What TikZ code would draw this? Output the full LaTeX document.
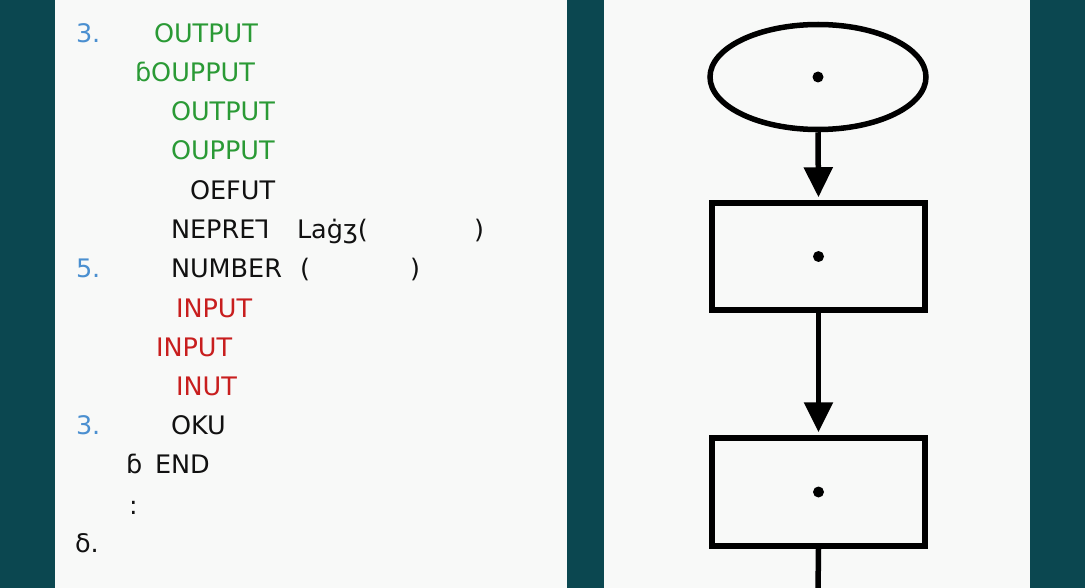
\documentclass[tikz,border=0pt]{standalone}
\usepackage{fontspec}
\setmainfont{DejaVu Sans}
\usetikzlibrary{shapes.geometric,arrows.meta}
\definecolor{bgteal}{HTML}{0B4750}
\definecolor{panel}{HTML}{F8F9F8}
\definecolor{codegreen}{HTML}{2A9A35}
\definecolor{codered}{HTML}{C81E1E}
\definecolor{codeblue}{HTML}{4A8FD0}
\definecolor{ink}{HTML}{111111}
\tikzset{
  txt/.style={anchor=base west, inner sep=0pt, outer sep=0pt, font=\fontsize{25.5}{30}\selectfont, text=ink},
  gtxt/.style={txt, text=codegreen},
  rtxt/.style={txt, text=codered},
  btxt/.style={txt, text=codeblue},
  flow/.style={draw=black, line width=5.5pt, fill=none, inner sep=0pt},
  conn/.style={line width=5.5pt, draw=black},
  arr/.style={conn, -{Triangle[length=30pt,width=28pt]}, shorten >=3pt},
  dotc/.style={circle, fill=black, minimum size=11pt, inner sep=0pt}
}
\begin{document}
\begin{tikzpicture}[x=1pt,y=-1pt]
\useasboundingbox (0,0) rectangle (1085,588);
\fill[bgteal] (0,0) rectangle (1085,588);
\fill[panel] (55,0) rectangle (567,588);
\fill[panel] (604,0) rectangle (1030,588);

% code listing
\node[btxt] (n1) at (76,43) {3.};
\node[gtxt] (l0) at (154,43) {OUTPUT};
\node[gtxt] (l1) at (135,82) {ɓOUPPUT};
\node[gtxt] (l2) at (171,121) {OUTPUT};
\node[gtxt] (l3) at (171,160) {OUPPUT};
\node[txt] (l4) at (190,200) {OEFUT};
\node[txt] (l5a) at (171,239) {NEPRE⅂};
\node[txt] (l5b) at (297,239) {Laġʒ(};
\node[txt] (l5c) at (474,239) {)};
\node[btxt] (n2) at (76,278) {5.};
\node[txt] (l6a) at (171,278) {NUMBER};
\node[txt] (l6b) at (300,278) {(};
\node[txt] (l6c) at (410,278) {)};
\node[rtxt] (l7) at (176,317) {INPUT};
\node[rtxt] (l8) at (156,356) {INPUT};
\node[rtxt] (l9) at (176,395) {INUT};
\node[btxt] (n3) at (76,434) {3.};
\node[txt] (l10) at (171,434) {OKU};
\node[txt] (l11a) at (126,473) {ɓ};
\node[txt] (l11b) at (155,473) {END};
\node[txt] (l12) at (129,514) {:};
\node[txt] (n4) at (75,552) {δ.};

% flowchart
\node[flow, ellipse, minimum width=216pt, minimum height=105pt] (start) at (818,77) {};
\node[flow, rectangle, minimum width=213pt, minimum height=107pt] (box1) at (818.5,256.5) {};
\node[flow, rectangle, minimum width=213pt, minimum height=108pt] (box2) at (818.5,492) {};
\node[dotc] (d0) at (start.center) {};
\node[dotc] (d1) at (box1.center) {};
\node[dotc] (d2) at (box2.center) {};
\coordinate (bottom) at (818,592);
\draw[arr] (start.south) -- (box1.north);
\draw[arr] (box1.south) -- (box2.north);
\draw[conn] (box2.south) -- (bottom);
\end{tikzpicture}
\end{document}
